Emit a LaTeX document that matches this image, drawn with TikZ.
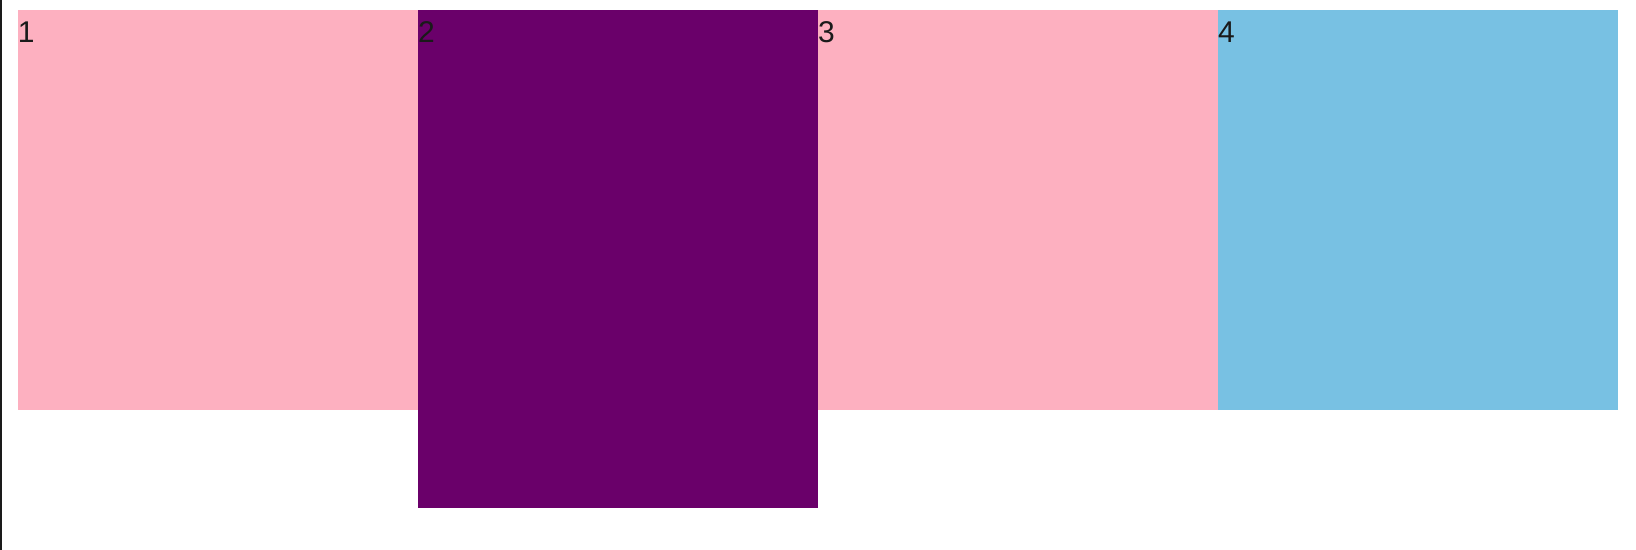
\documentclass[tikz,border=0pt]{standalone}
\usepackage{fontspec}
\setmainfont{Liberation Sans}
\usetikzlibrary{positioning}
\definecolor{cellpink}{HTML}{FDB0C0}
\definecolor{cellplum}{HTML}{6A006A}
\definecolor{cellsky}{HTML}{78C1E3}
\definecolor{inkdark}{HTML}{1A1A1A}
\begin{document}
\begin{tikzpicture}[
        x=0.5pt, y=0.5pt,
        cell/.style={draw=none, rectangle, minimum width=200pt, minimum height=200pt,
            inner sep=0pt, outer sep=0pt, anchor=north west},
        tall/.style={minimum height=249pt},
        num/.style={anchor=base west, inner sep=0pt, outer sep=0pt, text=inkdark,
            font=\fontsize{15pt}{18pt}\selectfont},
    ]
    \useasboundingbox (0,0) rectangle (1636,-550);
    \fill[inkdark] (0,0) rectangle (2,-550);
    % the four cells, side by side
    \node[cell, fill=cellpink](c1) at (18,-10) {};
    \node[cell, tall, fill=cellplum](c2) at (c1.north east) {};
    \node[cell, fill=cellpink](c3) at (c2.north east) {};
    \node[cell, fill=cellsky](c4) at (c3.north east) {};
    % numbers
    \node[num](n1) at ([yshift=-16.5pt]c1.north west) {1};
    \node[num](n2) at ([yshift=-16.5pt]c2.north west) {2};
    \node[num](n3) at ([yshift=-16.5pt]c3.north west) {3};
    \node[num](n4) at ([yshift=-16.5pt]c4.north west) {4};
\end{tikzpicture}
\end{document}
